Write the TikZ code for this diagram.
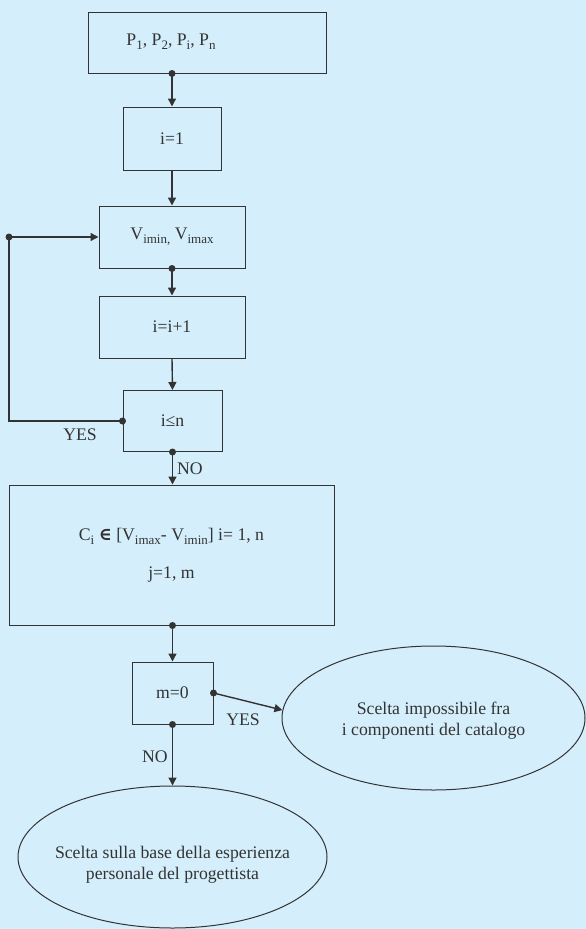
\documentclass[tikz,border=0pt]{standalone}
\usepackage{fontspec}
\setmainfont{Liberation Serif}
\newfontfamily\symfont{DejaVu Serif}
\usetikzlibrary{arrows.meta,shapes.geometric}

\definecolor{bgblue}{RGB}{212,239,251}
\definecolor{ink}{RGB}{51,51,51}

\newcommand{\lowsub}[1]{\raisebox{-0.5ex}{\fontsize{13}{13}\selectfont #1}}

\tikzset{
  box/.style={draw=ink, line width=1pt, rectangle, inner sep=0pt},
  oval/.style={draw=ink, line width=1pt, ellipse, inner sep=0pt},
  flow/.style={draw=ink, line width=1.4pt, -{Triangle[length=8pt,width=8pt]}},
  dot/.style={circle, fill=ink, inner sep=0pt, minimum size=7pt},
  lbl/.style={text=ink, inner sep=0pt, align=center},
}

\begin{document}
\begin{tikzpicture}[x=1pt, y=-1pt, font=\fontsize{17.7}{21}\selectfont, text=ink]

\fill[bgblue] (0,0) rectangle (586,929);

% boxes
\node[box, minimum width=238pt, minimum height=61pt] (params) at (207,42.5) {};
\node[lbl] (ptext) at (171,42) {P\lowsub{1}, P\lowsub{2}, P\lowsub{i}, P\lowsub{n}};
\node[box, minimum width=98pt, minimum height=63pt] (i1) at (172,138.5) {i=1};
\node[box, minimum width=146pt, minimum height=62pt] (vmin) at (172,237) {V\lowsub{imin,} V\lowsub{imax}};
\node[box, minimum width=146pt, minimum height=62pt] (incr) at (172,327) {i=i+1};
\node[box, minimum width=99pt, minimum height=61pt] (leq) at (172.5,421) {i≤n};
\node[box, minimum width=325pt, minimum height=140pt, align=center] (range) at (171.5,555)
  {C\lowsub{i} {\symfont\bfseries ∈} [V\lowsub{imax}- V\lowsub{imin}] i= 1, n\\[17pt] j=1, m};
\node[box, minimum width=81pt, minimum height=62pt] (mzero) at (172.5,693) {m=0};

% ovals
\node[oval, minimum width=303pt, minimum height=144pt] (nochoice) at (433.5,718) {};
\node[lbl] (nochoicetext) at (433.5,721) {Scelta impossibile fra\\i componenti del catalogo};
\node[oval, minimum width=309pt, minimum height=142pt] (expert) at (172.5,857) {};
\node[lbl] (experttext) at (172.5,865) {Scelta sulla base della esperienza\\personale del progettista};

% connectors
\coordinate (loop) at (9,237);
\draw[flow] (i1 |- params.south) node[dot]{} -- (i1.north);
\draw[flow] (i1.south) -- (vmin.north);
\draw[flow] (vmin.south) node[dot]{} -- (incr.north);
\draw[flow] (incr.south) -- (leq.north);
\draw[flow] (leq.west) node[dot]{} -| (loop) node[dot]{} -- (vmin.west);
\draw[flow] (leq.south) node[dot]{} -- (range.north -| leq);
\draw[flow] (mzero |- range.south) node[dot]{} -- (mzero.north);
\draw[flow] (mzero.east) node[dot]{} -- (nochoice.177);
\draw[flow] (mzero.south) node[dot]{} -- (expert.north);

% labels
\node[lbl] (yes1) at (80,435) {YES};
\node[lbl] (no1) at (190,469) {NO};
\node[lbl] (yes2) at (243,720) {YES};
\node[lbl] (no2) at (155,757) {NO};

\end{tikzpicture}
\end{document}
